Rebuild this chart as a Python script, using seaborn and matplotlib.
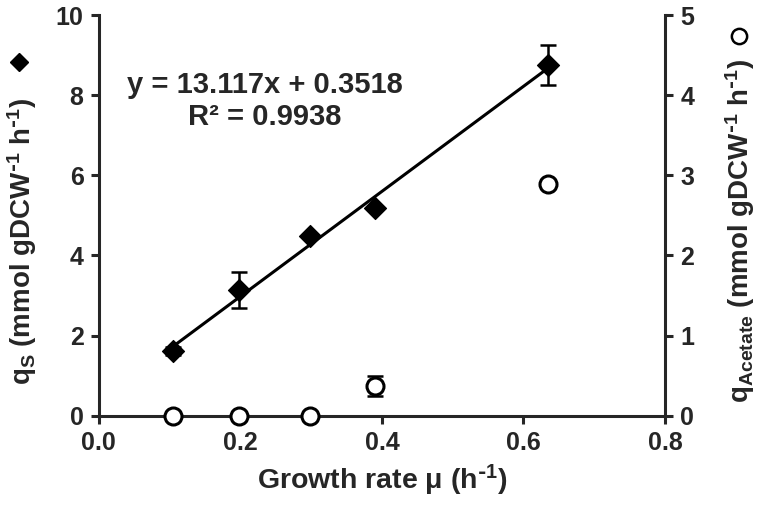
import numpy as np
import pandas as pd
import matplotlib
matplotlib.use("Agg")
import matplotlib.pyplot as plt
from matplotlib.lines import Line2D
import seaborn as sns

# ----------------------------------------------------------------------
# Data
# ----------------------------------------------------------------------
growth_rate = [0.105, 0.198, 0.298, 0.390, 0.635]
q_s = [1.61, 3.13, 4.49, 5.18, 8.75]
q_s_err = [0.10, 0.45, 0.05, 0.05, 0.50]
q_acetate = [0.0, 0.0, 0.0, 0.37, 2.89]
q_acetate_err = [0.0, 0.0, 0.0, 0.13, 0.0]

fit_slope = 13.117
fit_intercept = 0.3518
fit_r2 = 0.9938

x_ticks = [0.0, 0.2, 0.4, 0.6, 0.8]
y_left_ticks = [0, 2, 4, 6, 8, 10]
y_right_ticks = [0, 1, 2, 3, 4, 5]

df = pd.DataFrame({"mu": growth_rate, "qs": q_s, "qs_err": q_s_err,
                   "qac": q_acetate, "qac_err": q_acetate_err})
fit_x = np.array([min(growth_rate), max(growth_rate)])
fit_df = pd.DataFrame({"mu": fit_x, "qs": fit_slope * fit_x + fit_intercept})

# ----------------------------------------------------------------------
# Style
# ----------------------------------------------------------------------
sns.set_style("ticks")
plt.rcParams["font.family"] = ["Liberation Sans", "DejaVu Sans"]
plt.rcParams["font.weight"] = "bold"
plt.rcParams["axes.labelweight"] = "bold"
plt.rcParams["mathtext.default"] = "regular"

fig = plt.figure(figsize=(7.6, 5.05), dpi=100)
ax = fig.add_axes([0.130, 0.177, 0.745, 0.793])
ax2 = ax.twinx()

# fit line + q_S diamonds
sns.lineplot(data=fit_df, x="mu", y="qs", ax=ax, color="black", lw=2.2, zorder=2)
ax.errorbar(df["mu"], df["qs"], yerr=df["qs_err"], fmt="none", ecolor="black",
            elinewidth=1.8, capsize=5.5, capthick=1.8, zorder=3)
sns.scatterplot(data=df, x="mu", y="qs", ax=ax, marker="D", s=125,
                color="black", edgecolor="black", zorder=4)

# acetate circles
ax2.errorbar(df["mu"], df["qac"], yerr=df["qac_err"], fmt="none", ecolor="black",
             elinewidth=1.8, capsize=5.5, capthick=1.8, zorder=3)
sns.scatterplot(data=df, x="mu", y="qac", ax=ax2, marker="o", s=150,
                facecolor="white", edgecolor="black", linewidth=2.2,
                zorder=5, clip_on=False)

# ----------------------------------------------------------------------
# Axes
# ----------------------------------------------------------------------
ax.set_xlim(0, 0.8)
ax.set_ylim(0, 10)
ax2.set_ylim(0, 5)
ax.set_xticks(x_ticks)
ax.set_xticklabels([f"{v:.1f}" for v in x_ticks])
ax.set_yticks(y_left_ticks)
ax2.set_yticks(y_right_ticks)

for a in (ax, ax2):
    a.spines["top"].set_visible(False)
    for s in a.spines.values():
        s.set_linewidth(2.2)
    a.tick_params(direction="out", length=6, width=2.2, labelsize=18, pad=5)
ax.spines["right"].set_visible(False)
ax2.spines["left"].set_visible(False)
ax2.spines["bottom"].set_visible(False)

for lab in ax.get_xticklabels() + ax.get_yticklabels() + ax2.get_yticklabels():
    lab.set_fontweight("bold")

ax.set_xlabel(r"Growth rate μ (h$^{\text{-}1}$)", fontsize=20.5, labelpad=6)
ax.set_ylabel(r"q$_S$ (mmol gDCW$^{\text{-}1}$ h$^{\text{-}1}$)", fontsize=20,
              va="center")
ax.yaxis.set_label_coords(-0.136, 0.436)
ax2.set_ylabel(r"q$_{Acetate}$ (mmol gDCW$^{\text{-}1}$ h$^{\text{-}1}$)",
               fontsize=20, rotation=90, va="center")
ax2.yaxis.set_label_coords(1.132, 0.462)

# series symbols next to the axis titles
fig.add_artist(Line2D([19 / 760], [1 - 62 / 505], transform=fig.transFigure,
                      marker="D", markersize=9.5, color="black", ls="none"))
fig.add_artist(Line2D([739 / 760], [1 - 36 / 505], transform=fig.transFigure,
                      marker="o", markersize=11, markerfacecolor="white",
                      markeredgecolor="black", markeredgewidth=1.8, ls="none"))

ax.text(0.235, 8.25, f"y = {fit_slope}x + {fit_intercept}", fontsize=21,
        fontweight="bold", ha="center", va="center")
ax.text(0.235, 7.45, f"R² = {fit_r2}", fontsize=21,
        fontweight="bold", ha="center", va="center")

fig.savefig("out.png", dpi=100)
